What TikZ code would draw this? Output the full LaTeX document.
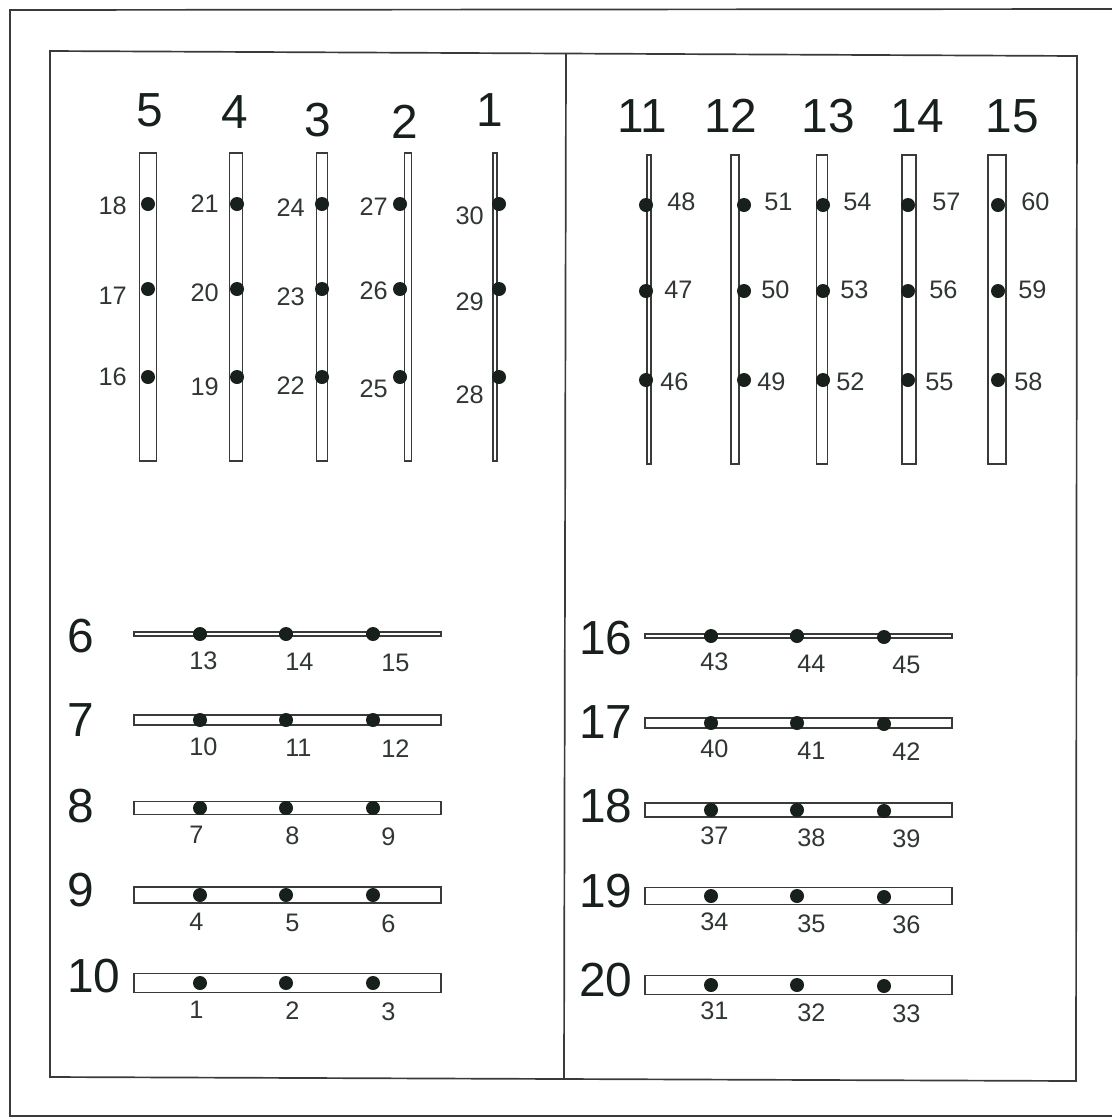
\documentclass[tikz,border=0pt]{standalone}
\usepackage{fontspec}
\setmainfont{Liberation Sans}
\definecolor{ink}{HTML}{18201C}
\definecolor{edge}{HTML}{3A3A3A}

\begin{document}
\begin{tikzpicture}[x=0.025cm,y=-0.025cm,
  bar/.style={draw=edge,line width=0.9pt,fill=white},
  dot/.style={circle,fill=ink,inner sep=0pt,minimum size=0.35cm},
  num/.style={inner sep=0pt,font=\fontsize{18}{18}\selectfont,text=ink!90},
  title/.style={inner sep=0pt,font=\fontsize{34}{34}\selectfont,text=ink}]
\useasboundingbox (0,0) rectangle (1112,1119);
% sheet edge and frame
\draw[edge,line width=1.2pt] (1112,9) -- (10,10) -- (10,1116) -- (1112,1116);
\draw[edge,line width=1.2pt] (50,51) -- (1077,56) -- (1076,1081) -- (50,1077) -- cycle;
\draw[edge,line width=1.2pt] (566,53) -- (564,1079);

% standing bars, left half
\foreach \b/\x/\w/\dx/\tx/\ty/\lx/\n/\oa/\ob/\oc in {5/148/17/148/150/110/-21/16/0/7/2,4/236/13/237/235/112/-18/19/10/4/0,3/322/11/322/318/120/-17/22/9/8/4,2/408/7/400/405/122/-12/25/12/2/3,1/495/4/499/490/110/-15/28/18/13/12}{
  \draw[bar] ({\x-\w/2},153) rectangle ({\x+\w/2},461);
  \node[title] (t\b) at (\tx,\ty) {\b};
  \pgfmathtruncatemacro\nb{\n+1}
  \pgfmathtruncatemacro\nc{\n+2}
  \node[dot] (d\n) at (\dx,377) {};
  \node[dot] (d\nb) at (\dx,289) {};
  \node[dot] (d\nc) at (\dx,204) {};
  \node[num,anchor=east] (p\n) at ({\dx+\lx},{377+\oa}) {\n};
  \node[num,anchor=east] (p\nb) at ({\dx+\lx},{289+\ob}) {\nb};
  \node[num,anchor=east] (p\nc) at ({\dx+\lx},{204+\oc}) {\nc};
}

% standing bars, right half
\foreach \b/\x/\w/\dx/\tx/\lx/\n in {11/649/4/646/642/21/46,12/735/8/744/731/20/49,13/822/11/823/828/20/52,14/909/14/908/917/24/55,15/997/18/998/1012/23/58}{
  \draw[bar] ({\x-\w/2},155) rectangle ({\x+\w/2},464);
  \node[title] (t\b) at (\tx,116) {\b};
  \pgfmathtruncatemacro\nb{\n+1}
  \pgfmathtruncatemacro\nc{\n+2}
  \node[dot] (d\n) at (\dx,380) {};
  \node[dot] (d\nb) at (\dx,291) {};
  \node[dot] (d\nc) at (\dx,205) {};
  \node[num,anchor=west] (p\n) at ({\dx+\lx-7},382) {\n};
  \node[num,anchor=west] (p\nb) at ({\dx+\lx-3},290) {\nb};
  \node[num,anchor=west] (p\nc) at ({\dx+\lx},202) {\nc};
}

% lying bars, left half
\foreach \r/\y/\h/\ty/\n in {6/634/4/636/13,7/720/10/720/10,8/808/13/806/7,9/895/16/890/4,10/983/19/976/1}{
  \draw[bar] (134,{\y-\h/2}) rectangle (441,{\y+\h/2});
  \node[title,anchor=west] (t\r) at (67,\ty) {\r};
  \pgfmathtruncatemacro\nb{\n+1}
  \pgfmathtruncatemacro\nc{\n+2}
  \node[dot] (d\n) at (200,\y) {};
  \node[dot] (d\nb) at (286,\y) {};
  \node[dot] (d\nc) at (373,\y) {};
  \node[num,anchor=west] (p\n) at (189,{\y+27}) {\n};
  \node[num,anchor=west] (p\nb) at (285,{\y+28}) {\nb};
  \node[num,anchor=west] (p\nc) at (381,{\y+29}) {\nc};
}

% lying bars, right half
\foreach \r/\y/\h/\ty/\n in {16/636/4/638/43,17/723/10/722/40,18/810/14/806/37,19/896/17/891/34,20/985/19/980/31}{
  \draw[bar] (645,{\y-\h/2}) rectangle (952,{\y+\h/2});
  \node[title,anchor=west] (t\r) at (579,\ty) {\r};
  \pgfmathtruncatemacro\nb{\n+1}
  \pgfmathtruncatemacro\nc{\n+2}
  \node[dot] (d\n) at (711,\y) {};
  \node[dot] (d\nb) at (797,\y) {};
  \node[dot] (d\nc) at (884,{\y+1}) {};
  \node[num,anchor=west] (p\n) at (700,{\y+26}) {\n};
  \node[num,anchor=west] (p\nb) at (797,{\y+28}) {\nb};
  \node[num,anchor=west] (p\nc) at (892,{\y+29}) {\nc};
}
\end{tikzpicture}
\end{document}
